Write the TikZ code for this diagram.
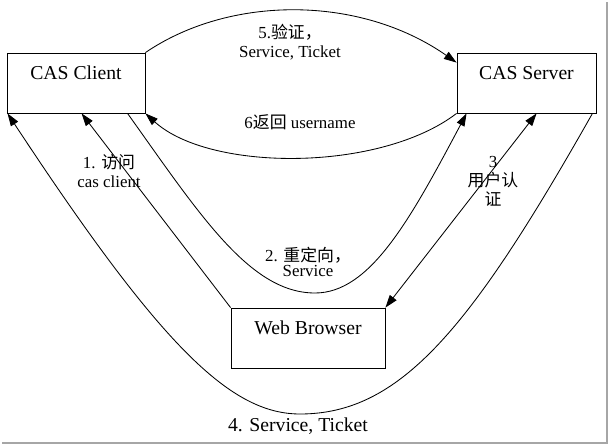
\documentclass[tikz,border=0pt]{standalone}
\usepackage{fontspec}
\setmainfont{Liberation Serif}
\newfontfamily\cjk{Noto Sans CJK SC}
\usetikzlibrary{arrows.meta,positioning,calc}

\begin{document}
\begin{tikzpicture}[x=0.025cm, y=-0.025cm, line width=0.6pt,
  every node/.style={font=\fontsize{12}{13.5}\selectfont},
  box/.style={draw, minimum height=1.5cm, inner sep=0pt},
  boxtext/.style={inner sep=0pt, font=\fontsize{14}{16}\selectfont},
  tip/.style={-{Triangle[length=9pt,width=6pt]}},
  bothtip/.style={{Triangle[length=9pt,width=6pt]}-{Triangle[length=9pt,width=6pt]}}]
\useasboundingbox (0,0) rectangle (611,447);

% the three parties
\node[box, minimum width=3.45cm] (client) at (76,83) {};
\node[box, minimum width=3.475cm] (server) at (526.5,83) {};
\node[box, minimum width=3.85cm] (browser) at (308,338) {};

\node[boxtext, below=0.33cm of client.north] (clientname) {CAS Client};
\node[boxtext, below=0.33cm of server.north] (servername) {CAS Server};
\node[boxtext, below=0.31cm of browser.north] (browsername) {Web Browser};

% 1: browser -> client
\draw[tip] (browser.north west) -- ($(client.south west)+(75,0)$);
\node[align=center] (lab1) at (109,171) {1. {\cjk 访问}\\cas client};

% 2: client redirects browser to server
\draw[tip] ($(client.south west)+(121,0)$) .. controls (200,215) and (250,293) .. (315,293)
  .. controls (370,293) and (410,220) .. ($(server.south west)+(10,0)$);
\node[align=center, font=\fontsize{12}{11}\selectfont] (lab2) at (308,262) {2. {\cjk 重定向，}\\Service};

% 3: user authentication
\draw[bothtip] ($(server.south west)+(80,0)$) -- (browser.north east);
\node[align=center] (lab3) at (493,181) {3\\{\cjk 用户认}\\{\cjk 证}};

% 4: back round the bottom
\draw[tip] ($(server.south east)+(-4,0)$) .. controls (470,330) and (400,414) .. (300,414)
  .. controls (230,414) and (160,345) .. ($(client.south west)+(1,0)$);
\node[font=\fontsize{14}{16}\selectfont] (lab4) at (298,426) {4. Service, Ticket};

% 5 and 6: client <-> server
\draw[tip] (client.north east) .. controls (230,-5) and (360,-5) .. ($(server.north west)+(0,10)$);
\node[align=center] (lab5) at (290,42) {5.{\cjk 验证，}\\Service, Ticket};

\draw[tip] (server.south west) .. controls (380,172) and (210,172) .. (client.south east);
\node (lab6) at (300,122) {6{\cjk 返回} username};

% shadow of the frame
\draw[gray!70, line width=1.5pt] (607,2) -- (607,443) -- (2,443);
\end{tikzpicture}
\end{document}
